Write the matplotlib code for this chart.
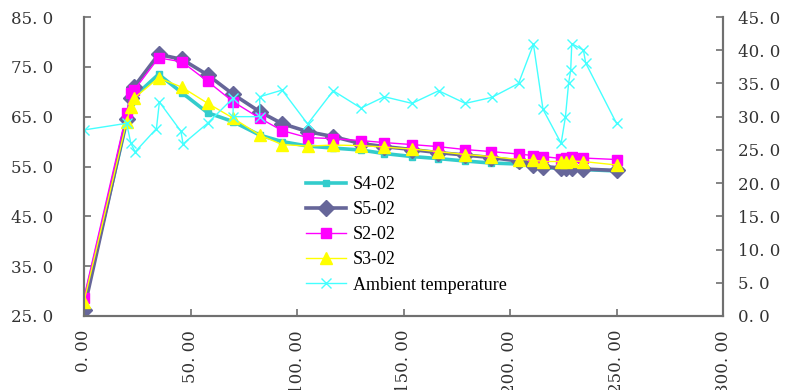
import matplotlib
matplotlib.use("Agg")
import matplotlib.pyplot as plt
from matplotlib.ticker import FixedLocator, FuncFormatter

# ---- data ----
t_main = [0, 20, 22, 23.5, 35, 46, 58, 70, 82.5, 93, 105, 117, 130, 141, 154,
          166, 179, 191, 204, 211, 215.5, 224, 226.5, 229, 234.5, 250]
s4_02 = [27.5, 64.0, 68.0, 69.0, 73.5, 69.8, 65.8, 64.0, 61.3, 60.0, 59.1, 58.7,
         58.3, 57.6, 57.0, 56.6, 56.1, 55.7, 55.5, 55.0, 54.8, 54.6, 54.5, 54.6,
         54.4, 54.1]
s5_02 = [26.3, 64.5, 68.8, 71.0, 77.5, 76.5, 73.4, 69.5, 66.0, 63.6, 62.0, 61.0,
         59.6, 59.0, 58.4, 57.8, 57.3, 56.8, 56.1, 55.4, 55.0, 54.7, 54.6, 54.7,
         54.5, 54.2]
s2_02 = [28.7, 65.7, 69.7, 70.3, 76.8, 76.0, 72.1, 68.0, 64.7, 62.2, 60.8, 60.6,
         60.2, 59.8, 59.4, 59.0, 58.4, 58.0, 57.5, 57.2, 57.0, 56.6, 56.8, 57.0,
         56.7, 56.4]
s3_02 = [27.9, 64.0, 67.0, 68.7, 72.8, 70.9, 67.7, 64.7, 61.3, 59.4, 59.1, 59.3,
         59.2, 58.9, 58.5, 58.0, 57.4, 57.0, 56.4, 56.3, 56.0, 56.0, 56.0, 56.1,
         56.0, 55.3]

t_amb = [0, 20, 22, 24, 34, 35.4, 45.5, 46.5, 58, 70, 70, 82.5, 82.5, 93, 105,
         117, 130, 141, 154, 166.5, 179, 191.5, 204, 211, 215.5, 224, 226,
         227.5, 228.5, 229, 234.5, 235.5, 250]
ambient = [28.0, 29.0, 26.0, 24.7, 28.2, 32.2, 27.8, 25.9, 29.0, 32.8, 30.0,
           30.0, 33.0, 34.0, 28.9, 33.9, 31.3, 33.0, 32.0, 33.9, 32.0, 32.9,
           35.0, 40.9, 31.1, 26.0, 29.9, 35.0, 37.0, 41.0, 40.0, 38.1, 29.0]

x_ticks = [0, 50, 100, 150, 200, 250, 300]
y_left_ticks = [25, 35, 45, 55, 65, 75, 85]
y_right_ticks = [0, 5, 10, 15, 20, 25, 30, 35, 40, 45]

# ---- figure ----
W, H = 786, 390
fig = plt.figure(figsize=(W / 100, H / 100), dpi=100)
ax = fig.add_axes([84 / W, 1 - 316 / H, (723 - 84) / W, (316 - 17) / H])
ax2 = ax.twinx()

spine_c = "#707070"

l1, = ax.plot(t_main, s4_02, color="#33CCCC", lw=2.6, marker="s", ms=5,
              mec="#33CCCC", mfc="#33CCCC", label="S4-02", zorder=2)
l2, = ax.plot(t_main, s5_02, color="#666699", lw=2.6, marker="D", ms=8,
              mec="#666699", mfc="#666699", label="S5-02", zorder=3)
l3, = ax.plot(t_main, s2_02, color="#FF00FF", lw=1.0, marker="s", ms=7,
              mec="#FF00FF", mfc="#FF00FF", label="S2-02", zorder=4)
l4, = ax.plot(t_main, s3_02, color="#FFFF00", lw=1.0, marker="^", ms=8,
              mec="#FFFF00", mfc="#FFFF00", label="S3-02", zorder=5)
l5, = ax2.plot(t_amb, ambient, color="#44FFFF", lw=1.0, marker="x", ms=7,
               mew=1.0, label="Ambient temperature")

ax.set_xlim(0, 300)
ax.set_ylim(25, 85)
ax2.set_ylim(0, 45)

fmt1 = FuncFormatter(lambda v, p: f"{v:.1f}".replace(".", ". "))
ax.xaxis.set_major_locator(FixedLocator(x_ticks))
ax.yaxis.set_major_locator(FixedLocator(y_left_ticks))
ax2.yaxis.set_major_locator(FixedLocator(y_right_ticks))
ax.xaxis.set_major_formatter(FuncFormatter(lambda v, p: f"{v:.2f}".replace(".", ". ")))
ax.yaxis.set_major_formatter(fmt1)
ax2.yaxis.set_major_formatter(fmt1)

for a in (ax, ax2):
    a.spines["top"].set_visible(False)
    for s in ("left", "right", "bottom"):
        a.spines[s].set_color(spine_c)
        a.spines[s].set_linewidth(1.5)
    a.set_facecolor("none")

ax.tick_params(axis="x", direction="in", length=5, width=1.2, color=spine_c,
               pad=10, labelrotation=90, labelcolor="#333333")
ax.tick_params(axis="y", direction="in", length=5, width=1.2, color=spine_c,
               pad=22, labelcolor="#333333")
ax2.tick_params(axis="y", direction="in", length=5, width=1.2, color=spine_c,
                pad=11, labelcolor="#333333")
for lab in ax.get_xticklabels() + ax.get_yticklabels() + ax2.get_yticklabels():
    lab.set_fontfamily("DejaVu Serif")
    lab.set_fontsize(12)
for lab in ax.get_xticklabels():
    lab.set_verticalalignment("top")

leg = ax2.legend(handles=[l1, l2, l3, l4, l5], loc="upper left",
                 bbox_to_anchor=(306 / W, 1 - 176 / H),
                 bbox_transform=fig.transFigure, frameon=False,
                 prop=dict(family="Liberation Serif", size=13),
                 handlelength=2.2, handletextpad=0.4, labelspacing=0.45,
                 borderpad=0, borderaxespad=0)

fig.savefig("out.png", dpi=100)
